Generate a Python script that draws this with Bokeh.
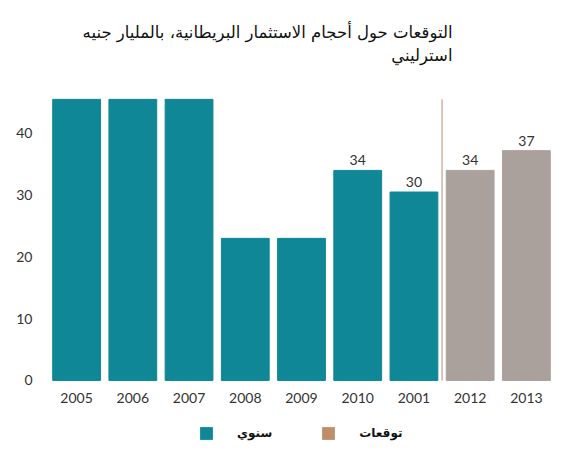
from bokeh.plotting import figure
from bokeh.models import (ColumnDataSource, FixedTicker, Legend, LegendItem,
                          Label, LabelSet, Range1d, FactorRange)
from bokeh.core.properties import value
from bokeh.embed import file_html
from bokeh.resources import INLINE

# ---- data ----
years = ["2005", "2006", "2007", "2008", "2009", "2010", "2001", "2012", "2013"]
values = [45.5, 45.5, 45.5, 23, 23, 34, 30.5, 34, 37.2]   # first three run past the chart top
value_labels = ["", "", "", "", "", "34", "30", "34", "37"]
kinds = ["سنوي", "سنوي", "سنوي", "سنوي", "سنوي", "سنوي", "سنوي", "توقعات", "توقعات"]
y_ticks = [0, 10, 20, 30, 40]
title_line1 = "التوقعات حول أحجام الاستثمار البريطانية، بالمليار جنيه"
title_line2 = "استرليني"
legend_labels = ["سنوي", "توقعات"]

# ---- styles / layout ----
TEAL = "#0f8797"
TAUPE = "#aba19c"
LEGEND_TAN = "#bf8f6c"
DIVIDER = "#c9a894"
TEXT = "#333333"
VISIBLE_TOP = 45.5
Y_LO, Y_HI = -11.66, 61.5
bar_color = {"سنوي": TEAL, "توقعات": TAUPE}

src = ColumnDataSource(dict(year=years, value=values, label=value_labels,
                            color=[bar_color[k] for k in kinds]))

p = figure(x_range=FactorRange(*years), y_range=Range1d(Y_LO, Y_HI),
           width=554, height=452, output_backend="svg", toolbar_location=None,
           x_axis_location=None, min_border_left=48, min_border_right=0,
           min_border_top=0, min_border_bottom=0)

p.vbar(x="year", top="value", width=0.85, color="color", source=src)

# value labels above bars
p.add_layout(LabelSet(x="year", y="value", text="label", source=src, y_offset=5,
                      text_align="center", text_baseline="bottom",
                      text_font=value("Lato"), text_font_size="14px", text_color=TEXT))

# category labels under the bars
p.add_layout(LabelSet(x="year", y=0, text="year", source=src, y_offset=-18,
                      text_align="center", text_baseline="middle",
                      text_font=value("Lato"), text_font_size="14px", text_color=TEXT))

# divider between actual and forecast years
n_actual = kinds.count("سنوي")
p.segment(x0=[n_actual], y0=[0], x1=[n_actual], y1=[VISIBLE_TOP],
          line_color=DIVIDER, line_width=1.3)

# title
p.add_layout(Label(x=404, y=420, x_units="screen", y_units="screen", text=title_line1,
                   text_align="right", text_baseline="middle", text_font="DejaVu Sans",
                   text_font_size="16.5px", text_color="#111111"))
p.add_layout(Label(x=404, y=397, x_units="screen", y_units="screen", text=title_line2,
                   text_align="right", text_baseline="middle", text_font="DejaVu Sans",
                   text_font_size="16.5px", text_color="#111111"))

# legend (zero-height proxy bars carry the legend colours)
r1 = p.vbar(x=[years[0]], top=[0], width=0.5, fill_color=TEAL, line_color=None)
r2 = p.vbar(x=[years[0]], top=[0], width=0.5, fill_color=LEGEND_TAN, line_color=None)
legend = Legend(items=[LegendItem(label=legend_labels[0], renderers=[r1]),
                       LegendItem(label=legend_labels[1], renderers=[r2])],
                orientation="horizontal", location=(150, 11),
                glyph_width=16, glyph_height=16, label_standoff=23, spacing=48,
                label_text_font="DejaVu Sans", label_text_font_size="12px",
                label_text_font_style="bold", label_text_color="#111111",
                border_line_color=None, background_fill_alpha=0, margin=0, padding=4)
p.add_layout(legend, "center")

# y axis
p.yaxis.ticker = FixedTicker(ticks=y_ticks)
ax = p.yaxis[0]
ax.axis_line_color = None
ax.major_tick_line_color = None
ax.minor_tick_line_color = None
ax.major_label_text_font = "Lato"
ax.major_label_text_font_size = "14px"
ax.major_label_text_color = TEXT
ax.major_label_standoff = 10
p.xgrid.grid_line_color = None
p.ygrid.grid_line_color = None
p.outline_line_color = None

open("out.html", "w").write(file_html(p, INLINE))
